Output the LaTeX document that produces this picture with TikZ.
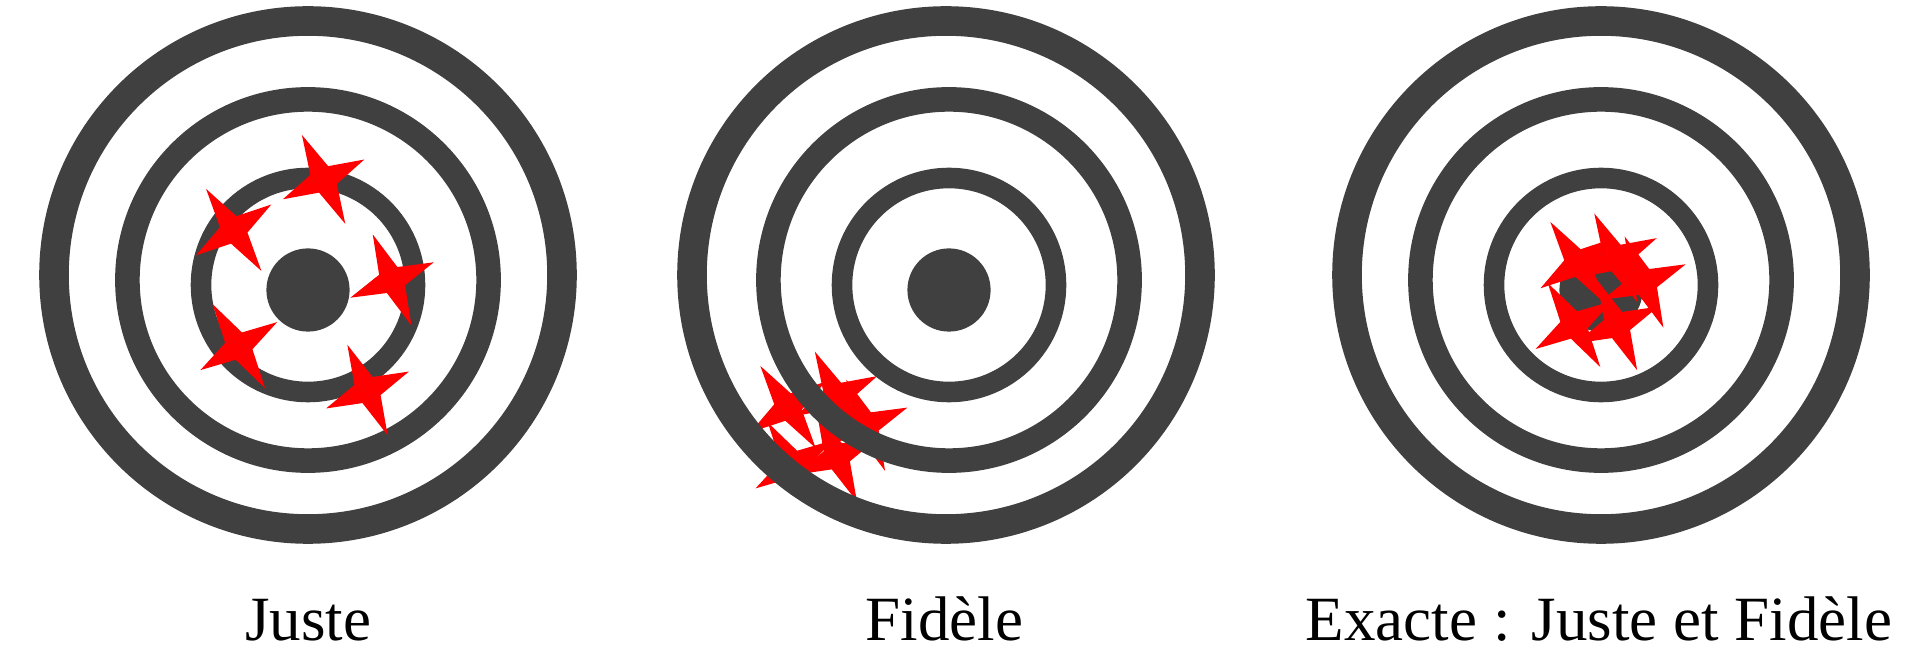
\documentclass[tikz,border=0pt]{standalone}
\usepackage{fontspec}
\setmainfont{Liberation Serif}
\definecolor{ringgray}{RGB}{64,64,64}
\definecolor{starred}{RGB}{255,0,0}
\tikzset{
  ringA/.style={draw=ringgray, line width=29.6pt},
  ringB/.style={draw=ringgray, line width=24.6pt},
  ringC/.style={draw=ringgray, line width=20.6pt},
  bull/.style={fill=ringgray},
  redstar/.pic={\fill[starred] (0:49.5) -- (45:14) -- (90:45.3) -- (135:14) -- (180:49.5) -- (225:14) -- (270:45.3) -- (315:14) -- cycle;},
  label/.style={anchor=base, font=\fontsize{63}{70}\selectfont, text=black, inner sep=0pt}
}
\newcommand{\targetrings}[2]{%
  \draw[ringA] (#1,389) circle (254);
  \draw[ringB] (#2,384) circle (180.6);
  \draw[ringC] (#2,379) circle (107);
  \fill[bull] (#2,374) circle (41.6);
}
\begin{document}
\begin{tikzpicture}[x=1pt,y=1pt]
\useasboundingbox (0,0) rectangle (1918,664);
% Target 1 : Juste
\targetrings{308}{308}
\pic[rotate=116] at (323.6,484.6) {redstar};
\pic[rotate=124] at (233.7,434.1) {redstar};
\pic[rotate=113] at (392.1,384) {redstar};
\pic[rotate=122] at (238.8,317.9) {redstar};
\pic[rotate=114] at (367.5,274) {redstar};
% Target 2 : Fidele (stars below rings)
\pic[rotate=124] at (788,257) {redstar};
\pic[rotate=116] at (836.5,268) {redstar};
\pic[rotate=113] at (865.7,238.7) {redstar};
\pic[rotate=122] at (794,199.6) {redstar};
\pic[rotate=114] at (836.8,207.7) {redstar};
\targetrings{946}{949}
% Target 3 : Exacte
\targetrings{1601}{1601}
\pic[rotate=124] at (1578,401) {redstar};
\pic[rotate=116] at (1616,406) {redstar};
\pic[rotate=113] at (1644,382) {redstar};
\pic[rotate=122] at (1574,339) {redstar};
\pic[rotate=114] at (1617,339) {redstar};
% Labels
\node[label] (l1) at (308,24) {Juste};
\node[label] (l2) at (944.5,24) {Fidèle};
\node[label] (l3) at (1599,24) {Exacte : Juste et Fidèle};
\end{tikzpicture}
\end{document}
